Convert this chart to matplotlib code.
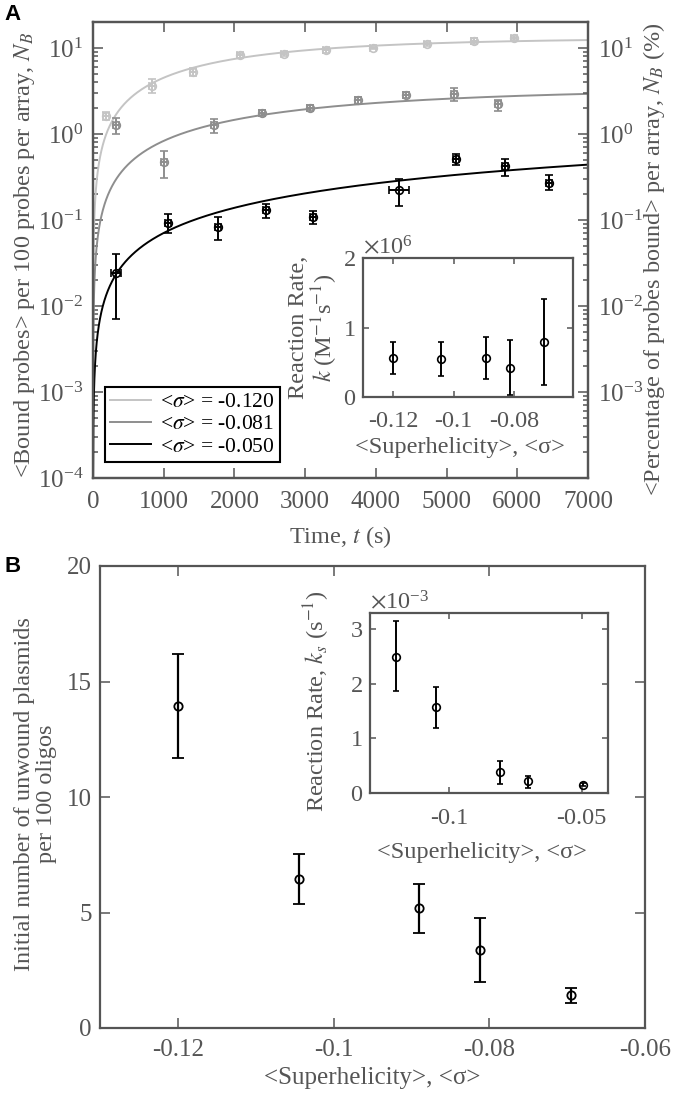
import numpy as np
import matplotlib
matplotlib.use('Agg')
from matplotlib import pyplot as plt
from matplotlib.ticker import ScalarFormatter, FuncFormatter, FixedLocator

plt.rcParams['font.family'] = ['Liberation Serif', 'DejaVu Serif']
plt.rcParams['mathtext.fontset'] = 'stix'
plt.rcParams['axes.unicode_minus'] = False

# ---- panel A: bound probes vs time for three superhelicities ----
sigma_labels = ['-0.120', '-0.081', '-0.050']
series_colors = ['#c4c4c4', '#8e8e8e', '#000000']

t_120 = [184, 834, 1414, 2080, 2700, 3295, 3960, 4724, 5390, 5955]
nb_120 = [1.6, 3.6, 5.2, 8.2, 8.4, 9.4, 9.9, 11.0, 11.9, 12.9]
lo_120 = [1.45, 3.0, 4.7, 7.7, 8.0, 8.8, 9.6, 10.4, 11.0, 12.3]
hi_120 = [1.78, 4.3, 5.9, 8.8, 8.9, 10.0, 10.3, 11.6, 12.9, 13.6]
terr_120 = [40, 40, 40, 40, 40, 40, 40, 40, 40, 40]

t_081 = [325, 1004, 1711, 2390, 3069, 3750, 4427, 5106, 5728]
nb_081 = [1.27, 0.47, 1.27, 1.75, 2.0, 2.47, 2.82, 2.9, 2.2]
lo_081 = [1.0, 0.31, 1.03, 1.62, 1.85, 2.25, 2.6, 2.4, 1.85]
hi_081 = [1.55, 0.64, 1.49, 1.9, 2.15, 2.7, 3.05, 3.4, 2.5]
terr_081 = [40, 40, 40, 40, 40, 40, 40, 40, 40]

t_050 = [325, 1061, 1768, 2447, 3112, 4328, 5134, 5827, 6450]
nb_050 = [0.024, 0.091, 0.082, 0.132, 0.107, 0.225, 0.51, 0.42, 0.27]
lo_050 = [0.0071, 0.070, 0.059, 0.104, 0.089, 0.147, 0.44, 0.32, 0.22]
hi_050 = [0.040, 0.116, 0.107, 0.155, 0.128, 0.30, 0.59, 0.51, 0.33]
terr_050 = [65, 40, 40, 40, 40, 140, 40, 40, 40]

# fitted curves N(t) = Nmax (1 - exp(-k t))
fit_nmax = [13.0, 3.4, 1.8]
fit_rate = [4.25e-4, 2.8e-4, 4.0e-5]

# inset A: second-order rate vs superhelicity
sig_k = [-0.12, -0.1043, -0.0893, -0.0815, -0.070]
k_val = [0.56e6, 0.55e6, 0.56e6, 0.42e6, 0.79e6]
k_lo = [0.33e6, 0.30e6, 0.26e6, 0.03e6, 0.17e6]
k_hi = [0.79e6, 0.79e6, 0.86e6, 0.82e6, 1.41e6]

# ---- panel B: initial unwound plasmids vs superhelicity ----
sig_b = [-0.12, -0.1044, -0.089, -0.0812, -0.0695]
n0 = [13.94, 6.45, 5.19, 3.38, 1.43]
n0_lo = [11.7, 5.37, 4.11, 1.99, 1.08]
n0_hi = [16.2, 7.53, 6.23, 4.76, 1.73]

# inset B: first-order rate vs superhelicity
sig_ks = [-0.12, -0.105, -0.081, -0.0701, -0.0496]
ks = [2.50e-3, 1.57e-3, 0.38e-3, 0.22e-3, 0.15e-3]
ks_lo = [1.87e-3, 1.19e-3, 0.17e-3, 0.09e-3, 0.12e-3]
ks_hi = [3.16e-3, 1.94e-3, 0.58e-3, 0.31e-3, 0.18e-3]

txt = '#555555'
spc = '#555555'
W, H = 676, 1096


def box(l, t, r, b):
    return [l / W, 1 - b / H, (r - l) / W, (b - t) / H]


def style(ax, size=18, pad=6, major=7, minor=3.5):
    for s in ax.spines.values():
        s.set_color(spc)
        s.set_linewidth(1.6)
    ax.tick_params(which='both', direction='in', colors=spc, labelcolor=txt,
                   labelsize=size, pad=pad, width=1.1)
    ax.tick_params(which='major', length=major)
    ax.tick_params(which='minor', length=minor)


def yerr(v, lo, hi):
    v = np.array(v)
    return [v - np.array(lo), np.array(hi) - v]


gfmt = FuncFormatter(lambda v, p: '%g' % v)

fig = plt.figure(figsize=(6.76, 10.96), dpi=100)

# ---------------- panel A ----------------
ax = fig.add_axes(box(93, 22, 588, 478))
ax.set_yscale('log')
tt = np.linspace(1, 7000, 3000)
series = [(t_120, nb_120, lo_120, hi_120, terr_120),
          (t_081, nb_081, lo_081, hi_081, terr_081),
          (t_050, nb_050, lo_050, hi_050, terr_050)]
for i, (t, v, lo, hi, te) in enumerate(series):
    c = series_colors[i]
    ax.plot(tt, fit_nmax[i] * (1 - np.exp(-fit_rate[i] * tt)), color=c, lw=1.4,
            label='<$\\sigma$> = ' + sigma_labels[i])
    ax.errorbar(t, v, yerr=yerr(v, lo, hi), xerr=te, fmt='o', ms=5.5, mfc='none',
                mec=c, ecolor=c, mew=1.2, elinewidth=1.4, capsize=3, capthick=1.4)
ax.set_xlim(0, 7000)
ax.set_ylim(1e-4, 20)
ax.set_xticks(range(0, 7001, 1000))
ax.xaxis.set_major_formatter(gfmt)
style(ax, pad=9)
ax.tick_params(top=True, right=False, which='both')
ax.tick_params(axis='y', pad=7)
ax.set_xlabel('Time, $t$ (s)', fontsize=17.5, color=txt)
ax.xaxis.set_label_coords(0.5, -0.10)
ax.set_ylabel('<Bound probes> per 100 probes per array, $N_B$', fontsize=17.5, color=txt)
ax.yaxis.set_label_coords(-0.113, 0.49)
leg = ax.legend(loc='upper left', bbox_to_anchor=(0.024, 0.2), borderaxespad=0,
                fontsize=15.5, fancybox=False, handlelength=1.9, handletextpad=0.4,
                borderpad=0.25, labelspacing=0.1, framealpha=1)
leg.get_frame().set_edgecolor('black')
leg.get_frame().set_linewidth(1.5)

axr = ax.twinx()
axr.set_yscale('log')
axr.set_ylim(1e-4, 20)
style(axr, pad=7)
axr.yaxis.set_major_locator(FixedLocator([1e-3, 1e-2, 1e-1, 1e0, 1e1]))
axr.set_ylabel('<Percentage of probes bound> per array, $N_B$ (%)', fontsize=17.5,
               color=txt, rotation=90)
axr.yaxis.set_label_coords(1.108, 0.48)

# inset A
ia = fig.add_axes(box(363, 258, 573, 397))
ia.errorbar(sig_k, k_val, yerr=yerr(k_val, k_lo, k_hi), fmt='o', ms=5.5, mfc='none',
            mec='k', ecolor='k', mew=1.2, elinewidth=1.4, capsize=2.5, capthick=1.4)
ia.set_xlim(-0.13, -0.0605)
ia.set_ylim(0, 2e6)
ia.set_xticks([-0.12, -0.1, -0.08])
ia.xaxis.set_major_formatter(gfmt)
ia.set_yticks([0, 1e6, 2e6])
sf = ScalarFormatter(useMathText=True)
sf.set_powerlimits((0, 0))
ia.yaxis.set_major_formatter(sf)
style(ia, size=17.5, pad=5, major=4)
ia.tick_params(top=True, right=True)
ia.tick_params(axis='x', pad=10)
ia.yaxis.get_offset_text().set_fontsize(17.5)
ia.yaxis.get_offset_text().set_color(txt)
ia.set_ylabel('Reaction Rate,\n$k$ (M$^{-1}$s$^{-1}$)', fontsize=17.5, color=txt,
              linespacing=1.0)
ia.yaxis.set_label_coords(-0.11, 0.5)
ia.set_xlabel('<Superhelicity>, <σ>', fontsize=17.5, color=txt)
ia.xaxis.set_label_coords(0.46, -0.29)

# ---------------- panel B ----------------
bx = fig.add_axes(box(100, 566, 645, 1028))
bx.errorbar(sig_b, n0, yerr=yerr(n0, n0_lo, n0_hi), fmt='o', ms=6, mfc='none',
            mec='k', ecolor='k', mew=1.3, elinewidth=1.6, capsize=4, capthick=1.6)
bx.set_xlim(-0.13, -0.06)
bx.set_ylim(0, 20)
bx.set_xticks([-0.12, -0.1, -0.08, -0.06])
bx.xaxis.set_major_formatter(gfmt)
bx.set_yticks([0, 5, 10, 15, 20])
style(bx, pad=8)
bx.tick_params(top=True, right=True)
bx.tick_params(axis='y', pad=6)
bx.set_xlabel('<Superhelicity>, <σ>', fontsize=18, color=txt)
bx.xaxis.set_label_coords(0.5, -0.085)
bx.set_ylabel('Initial number of unwound plasmids\nper 100 oligos', fontsize=17.5,
              color=txt, linespacing=1.05)
bx.yaxis.set_label_coords(-0.079, 0.506)

# inset B
ib = fig.add_axes(box(370, 613, 608, 793))
ib.errorbar(sig_ks, ks, yerr=yerr(ks, ks_lo, ks_hi), fmt='o', ms=5.5, mfc='none',
            mec='k', ecolor='k', mew=1.2, elinewidth=1.4, capsize=2.5, capthick=1.4)
ib.set_xlim(-0.13, -0.04)
ib.set_ylim(0, 3.3e-3)
ib.set_xticks([-0.1, -0.05])
ib.xaxis.set_major_formatter(gfmt)
ib.set_yticks([0, 1e-3, 2e-3, 3e-3])
sf2 = ScalarFormatter(useMathText=True)
sf2.set_powerlimits((0, 0))
ib.yaxis.set_major_formatter(sf2)
style(ib, size=17.5, pad=5, major=4)
ib.tick_params(top=True, right=True)
ib.tick_params(axis='x', pad=11)
ib.yaxis.get_offset_text().set_fontsize(17.5)
ib.yaxis.get_offset_text().set_color(txt)
ib.set_ylabel('Reaction Rate, $k_s$ (s$^{-1}$)', fontsize=17.5, color=txt)
ib.yaxis.set_label_coords(-0.16, 0.51)
ib.set_xlabel('<Superhelicity>, <σ>', fontsize=17.5, color=txt)
ib.xaxis.set_label_coords(0.47, -0.27)

fig.text(4 / W, 1 - 14 / H, 'A', fontsize=16, fontweight='bold',
         family='Liberation Sans', va='center', ha='left')
fig.text(4 / W, 1 - 566 / H, 'B', fontsize=16, fontweight='bold',
         family='Liberation Sans', va='center', ha='left')

fig.savefig('out.png', dpi=100)
